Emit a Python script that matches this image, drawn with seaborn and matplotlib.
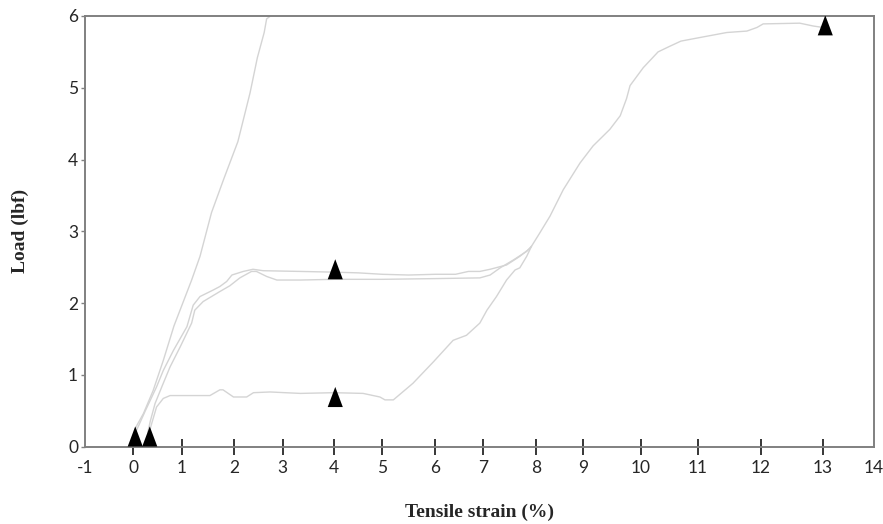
import numpy as np
import pandas as pd
import seaborn as sns
import matplotlib.pyplot as plt
from matplotlib.path import Path
from matplotlib.markers import MarkerStyle

# Strain / load traces
steep_x = [0.03, 0.07, 0.21, 0.41, 0.62, 0.84, 1.19, 1.35, 1.57, 1.80, 2.08, 2.33, 2.48, 2.62, 2.67, 2.75]
steep_y = [0.22, 0.29, 0.46, 0.78, 1.20, 1.68, 2.32, 2.65, 3.26, 3.72, 4.25, 4.93, 5.42, 5.77, 5.96, 6.00]

upper_x = [0.05, 0.25, 0.48, 0.62, 0.83, 1.10, 1.22, 1.35, 1.60, 1.73, 1.86, 1.96, 2.19, 2.39, 2.60,
           3.34, 4.0, 4.5, 5.0, 5.5, 6.0, 6.43, 6.70, 6.94, 7.14, 7.45, 7.70, 7.89, 7.92]
upper_y = [0.20, 0.50, 0.83, 1.06, 1.34, 1.67, 1.97, 2.09, 2.18, 2.23, 2.30, 2.39, 2.44, 2.47, 2.45,
           2.44, 2.43, 2.42, 2.40, 2.39, 2.40, 2.40, 2.44, 2.44, 2.47, 2.53, 2.65, 2.76, 2.79]

long_x = [0.30, 0.35, 0.45, 0.60, 0.76, 0.97, 1.19, 1.25, 1.41, 1.73, 1.92, 2.12, 2.36, 2.46, 2.67, 2.88,
          3.34, 4.0, 5.0, 6.0, 6.94, 7.14, 7.33, 7.58, 7.83, 7.92, 8.08, 8.30, 8.58, 8.93, 9.17, 9.46,
          9.64, 9.75, 9.81, 10.04, 10.30, 10.51, 10.70, 11.03, 11.46, 11.78, 11.94, 12.04, 12.63, 12.85, 13.01]
long_y = [0.20, 0.35, 0.60, 0.85, 1.11, 1.39, 1.72, 1.90, 2.02, 2.16, 2.24, 2.35, 2.44, 2.44, 2.37, 2.32,
          2.32, 2.33, 2.33, 2.34, 2.35, 2.39, 2.49, 2.60, 2.72, 2.79, 2.97, 3.21, 3.58, 3.95, 4.19, 4.42,
          4.61, 4.85, 5.03, 5.28, 5.50, 5.58, 5.65, 5.70, 5.77, 5.79, 5.84, 5.89, 5.90, 5.86, 5.84]

low_x = [0.33, 0.38, 0.48, 0.62, 0.76, 1.10, 1.54, 1.73, 1.79, 1.99, 2.26, 2.40, 2.74, 3.34, 4.0, 4.6,
         4.95, 5.05, 5.21, 5.58, 5.97, 6.38, 6.66, 6.94, 7.08, 7.26, 7.45, 7.61, 7.70, 7.83, 7.92]
low_y = [0.20, 0.32, 0.55, 0.67, 0.71, 0.71, 0.71, 0.79, 0.79, 0.69, 0.69, 0.75, 0.76, 0.74, 0.75, 0.74,
         0.69, 0.65, 0.65, 0.88, 1.18, 1.48, 1.55, 1.72, 1.90, 2.09, 2.32, 2.46, 2.49, 2.65, 2.79]

# triangle markers
mark_x = [0.04, 0.34, 4.02, 4.02, 13.05]
mark_y = [0.14, 0.14, 2.47, 0.69, 5.87]

xticks = list(range(-1, 15))
yticks = list(range(0, 7))

# the printed x axis is not evenly spaced, so map tick values to where they sit
tick_pos = [85, 133.3, 181.7, 234, 282.7, 334.3, 382.3, 435, 482.7, 535.7, 583.3, 641, 698, 760.7, 822.7, 874]

def fwd(v):
    return np.interp(v, xticks, tick_pos)

def inv(p):
    return np.interp(p, tick_pos, xticks)

sns.set_style("white")

fig = plt.figure(figsize=(8.83, 5.24), dpi=100)
ax = fig.add_axes([85 / 883, 77.5 / 524, 789 / 883, 430.5 / 524])
ax.set_xscale("function", functions=(fwd, inv))

for xs, ys in [(steep_x, steep_y), (upper_x, upper_y), (long_x, long_y), (low_x, low_y)]:
    df = pd.DataFrame({"x": xs, "y": ys})
    sns.lineplot(data=df, x="x", y="y", sort=False, estimator=None, color="#d4d4d4", lw=1.0, ax=ax)

tri = MarkerStyle(Path([(-0.75, -1), (0.75, -1), (0, 1), (-0.75, -1)]))
sns.scatterplot(x=mark_x, y=mark_y, marker=tri, s=210, color="black", edgecolor="none", zorder=5, ax=ax)

ax.set_xlim(-1, 14)
ax.set_ylim(0, 6)
ax.set_xticks(xticks)
ax.set_yticks(yticks)
ax.set_xticklabels([str(t) for t in xticks], fontsize=12.5, family="Lato")
ax.set_yticklabels([str(t) for t in yticks], fontsize=12.5, family="Lato")

ax.tick_params(axis="x", bottom=True, direction="inout", length=11, width=1.1, color="black", pad=4)
ax.tick_params(axis="y", left=True, direction="out", length=3, width=1, color="#808080", pad=2)
for i in (0, -1):
    ax.xaxis.get_major_ticks()[i].tick1line.set_visible(False)

for s in ax.spines.values():
    s.set_visible(True)
    s.set_color("#808080")
    s.set_linewidth(1.4)

ax.set_xlabel("Tensile strain (%)", fontsize=14, fontweight="bold", family="Liberation Serif", labelpad=20)
ax.set_ylabel("Load (lbf)", fontsize=14, fontweight="bold", family="Liberation Serif", labelpad=28)

plt.savefig("out.png", dpi=100)
